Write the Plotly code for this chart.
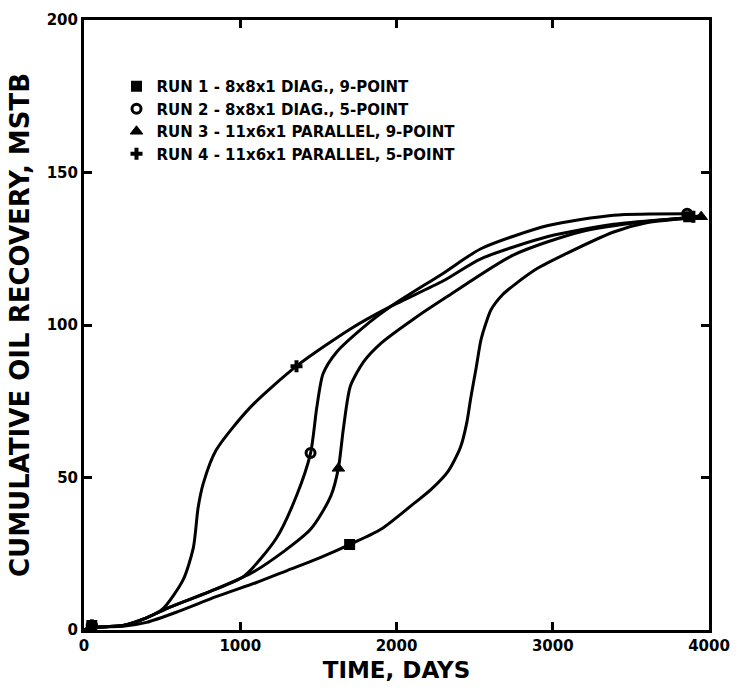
import plotly.graph_objects as go

# ---- data ----
run1_t = [0, 100, 250, 400, 600, 850, 1100, 1300, 1500, 1700, 1900, 2100, 2220, 2330, 2410, 2450, 2475, 2510, 2540, 2575, 2605, 2680, 2750, 2900, 3070, 3390, 3600, 3870]
run1_y = [0, 1, 1.2, 2.5, 6, 11, 15.5, 19.5, 23.5, 28, 33, 41, 46, 52, 60, 68, 76, 86, 95, 101, 105, 110, 113, 118.5, 123, 130.5, 133.5, 135]

run2_t = [0, 100, 250, 400, 550, 800, 1020, 1230, 1360, 1450, 1490, 1530, 1615, 1830, 1960, 2300, 2540, 2970, 3390, 3860]
run2_y = [0, 1, 1.5, 4, 7.5, 12.5, 17.5, 30, 44, 58, 73, 84, 91, 101, 106, 117, 125, 132.6, 136, 136.5]

run3_t = [0, 100, 250, 400, 550, 800, 1100, 1450, 1580, 1628, 1660, 1705, 1790, 1900, 2110, 2330, 2750, 3180, 3610, 3950]
run3_y = [0, 1, 1.5, 4, 7.5, 12.5, 19.5, 33, 44, 53, 66, 80, 88, 94, 102, 109.5, 123, 130.6, 134, 135.5]

run4_t = [0, 100, 250, 400, 506, 635, 700, 730, 763, 846, 1064, 1360, 1705, 1960, 2300, 2540, 2970, 3390, 3820, 3900]
run4_y = [0, 1, 1.5, 4, 7, 16.5, 27, 40, 48, 59, 73, 86.5, 98.7, 106, 114.5, 121.7, 129, 133, 135, 135.5]

# marker positions
run1_mt = [50, 1700, 3870]
run1_my = [1.5, 28, 135.5]
run2_mt = [50, 1450, 3860]
run2_my = [1.5, 58, 136.5]
run3_mt = [50, 1628, 3950]
run3_my = [1.5, 53, 135.5]
run4_mt = [50, 1360, 3900]
run4_my = [1.5, 86.5, 135.5]

names = [
    "RUN 1 - 8x8x1 DIAG., 9-POINT",
    "RUN 2 - 8x8x1 DIAG., 5-POINT",
    "RUN 3 - 11x6x1 PARALLEL, 9-POINT",
    "RUN 4 - 11x6x1 PARALLEL, 5-POINT",
]

x_ticks = [0, 1000, 2000, 3000, 4000]
y_ticks = [0, 50, 100, 150, 200]

FONT = "DejaVu Sans"

series = [
    (run1_t, run1_y, run1_mt, run1_my, "square", 3, 8),
    (run2_t, run2_y, run2_mt, run2_my, "circle-open", 3, 9),
    (run3_t, run3_y, run3_mt, run3_my, "triangle-up", 1, 11),
    (run4_t, run4_y, run4_mt, run4_my, "cross", 0, 10),
]

fig = go.Figure()
for i, (t, y, mt, my, sym, lw, sz) in enumerate(series):
    fig.add_trace(go.Scatter(
        x=t, y=y, mode="lines",
        line=dict(color="black", width=3, shape="spline", smoothing=0.7),
        showlegend=False, hoverinfo="skip",
    ))
for i, (t, y, mt, my, sym, lw, sz) in enumerate(series):
    fig.add_trace(go.Scatter(
        x=mt, y=my, mode="markers", name=names[i], legendgroup=f"g{i}",
        marker=dict(symbol=sym, size=sz, color="black",
                    line=dict(color="black", width=lw)),
    ))

axis_common = dict(
    showline=True, linecolor="black", linewidth=3, mirror="ticks",
    ticks="inside", ticklen=8, tickwidth=3, tickcolor="black",
    showgrid=False, zeroline=False,
    tickfont=dict(family=FONT, size=15, color="black", weight="bold"),
)

fig.update_layout(
    width=744, height=695,
    margin=dict(l=84, r=35, t=20, b=65),
    paper_bgcolor="white", plot_bgcolor="white",
    xaxis=dict(range=[0, 4000], tickvals=x_ticks, **axis_common,
               title=dict(text="TIME, DAYS", standoff=8,
                          font=dict(family=FONT, size=23, color="black", weight="bold"))),
    yaxis=dict(range=[0, 200], tickvals=y_ticks, **axis_common,
               title=dict(text="CUMULATIVE OIL RECOVERY, MSTB", standoff=10,
                          font=dict(family=FONT, size=26, color="black", weight="bold"))),
    legend=dict(x=0.052, y=0.918, xanchor="left", yanchor="top",
                font=dict(family=FONT, size=15, color="black", weight="bold"),
                traceorder="grouped", tracegroupgap=0,
                bgcolor="rgba(0,0,0,0)"),
)

fig.write_html("out.html")
